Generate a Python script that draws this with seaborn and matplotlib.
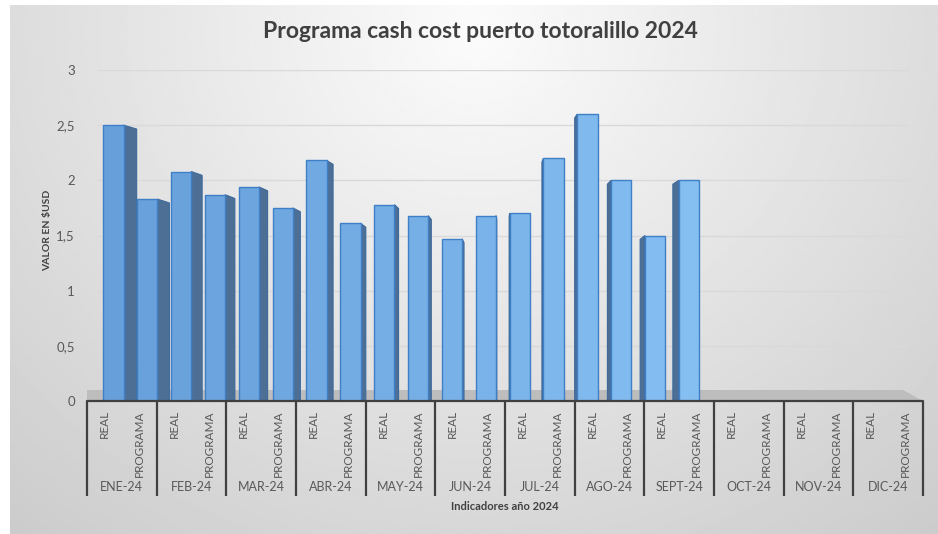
import numpy as np
import pandas as pd
import matplotlib
matplotlib.use("Agg")
import matplotlib.pyplot as plt
import seaborn as sns
from matplotlib.patches import Polygon
import matplotlib.colors as mcolors

# ---------------- data ----------------
meses = ["ENE-24", "FEB-24", "MAR-24", "ABR-24", "MAY-24", "JUN-24",
         "JUL-24", "AGO-24", "SEPT-24", "OCT-24", "NOV-24", "DIC-24"]
series = ["REAL", "PROGRAMA"]
real = [2.50, 2.08, 1.94, 2.18, 1.78, 1.47, 1.70, 2.60, 1.50, np.nan, np.nan, np.nan]
programa = [1.83, 1.87, 1.75, 1.61, 1.68, 1.68, 2.20, 2.00, 2.00, np.nan, np.nan, np.nan]
yticks = [0, 0.5, 1, 1.5, 2, 2.5, 3]
ytick_labels = ["0", "0,5", "1", "1,5", "2", "2,5", "3"]
titulo = "Programa cash cost puerto totoralillo 2024"
ylabel = "VALOR EN $USD"
xlabel = "Indicadores año 2024"

df = pd.DataFrame({
    "mes": meses * 2,
    "serie": ["REAL"] * len(meses) + ["PROGRAMA"] * len(meses),
    "valor": real + programa,
})

sns.set_theme(style="white")
plt.rcParams["font.family"] = ["Lato", "DejaVu Sans"]

W, H = 938, 534
fig = plt.figure(figsize=(W / 100, H / 100), dpi=100, facecolor="white")


def fx(px):
    return px / W


def fy(py):
    return 1 - py / H


# ---------------- background gradient ----------------
bg = fig.add_axes([fx(10), 0, 1 - fx(10), fy(5)])
bg.set_zorder(0)
gx, gy = np.meshgrid(np.linspace(0, 1, 300), np.linspace(0, 1, 200))
r = np.sqrt(((gx - 0.5) / 0.62) ** 2 + ((gy - 0.05) / 1.0) ** 2)
img = np.clip(0.985 - 0.15 * r, 0.80, 1.0)
bg.imshow(img, cmap="gray", vmin=0, vmax=1, aspect="auto", extent=[0, 1, 1, 0])
bg.set_xlim(0, 1)
bg.set_ylim(1, 0)
bg.axis("off")

# floor strip (decoration)
bg.add_patch(Polygon([(fx(87), fy(401)), (fx(87), fy(390)), (fx(903), fy(390)), (fx(923), fy(401))],
                     closed=True, transform=fig.transFigure, facecolor="#bdbdbd",
                     edgecolor="none", zorder=5))

# ---------------- bars axes ----------------
ax_left, ax_right = 96.5, 909
ax_top, ax_bot = 70, 401
ax = fig.add_axes([fx(ax_left), fy(ax_bot), fx(ax_right) - fx(ax_left), (ax_bot - ax_top) / H])
ax.set_zorder(2)
ax.set_facecolor("none")

base_col = "#6aa2dc"
sns.barplot(data=df, x="mes", y="valor", hue="serie", order=meses, hue_order=series,
            width=1.0, gap=0.4, palette=[base_col, base_col], edgecolor="#3f7fc8",
            linewidth=1.0, legend=False, ax=ax, zorder=3, errorbar=None)

c0 = np.array(mcolors.to_rgb("#659ed9"))
c1 = np.array(mcolors.to_rgb("#86bff2"))
side_col = "#4d6f96"
vp = 5.6  # vanishing x (data units)
bars = [p for p in ax.patches]
for p in bars:
    h = p.get_height()
    if not np.isfinite(h) or h <= 0:
        continue
    x0 = p.get_x()
    w = p.get_width()
    xc = x0 + w / 2
    t = np.clip((xc + 0.5) / 9.0, 0, 1)
    p.set_facecolor(tuple(c0 * (1 - t) + c1 * t))
    s = 0.033 * (vp - xc)
    d = 0.035
    if s > 0:
        pts = [(x0 + w, 0), (x0 + w, h), (x0 + w + s, h - d), (x0 + w + s, 0)]
    else:
        pts = [(x0, 0), (x0, h), (x0 + s, h - d), (x0 + s, 0)]
    ax.add_patch(Polygon(pts, closed=True, facecolor=side_col, edgecolor="#3d6a9c",
                         linewidth=0.8, zorder=2.5))

ax.set_xticks([])
ax.set_xlim(-0.5, len(meses) - 0.5)
ax.set_ylim(0, 3)
ax.set_yticks(yticks, ytick_labels)
ax.tick_params(axis="y", length=0, pad=15.5, labelsize=9.5, labelcolor="#595959")
ax.grid(axis="y", color="#d9d9d9", linewidth=1.0)
ax.set_axisbelow(True)
ax.set_xlabel("")
ax.set_ylabel("")
for sp in ax.spines.values():
    sp.set_visible(False)

# ---------------- category table ----------------
tab = fig.add_axes([fx(87), fy(496), fx(923) - fx(87), (496 - 401) / H])
tab.set_zorder(3)
tab.set_facecolor("none")
tab.set_xlim(-0.5, len(meses) - 0.5)
tab.set_ylim(1, 0)
tab.axis("off")
tab.plot([-0.5, len(meses) - 0.5], [0, 0], color="#404040", lw=1.6, clip_on=False)
tab.vlines(np.arange(len(meses) + 1) - 0.5, 0, 1, color="#404040", lw=1.6, clip_on=False)
for i, m in enumerate(meses):
    for j, s_ in enumerate(series):
        tab.text(i - 0.25 + 0.5 * j, 0.095, s_, rotation=90, ha="center", va="top",
                 fontsize=8.5, color="#595959")
    tab.text(i, 0.905, m, ha="center", va="center", fontsize=9, color="#595959")

fig.text(fx(505), fy(507), xlabel, ha="center", va="center", fontsize=8,
         fontweight="bold", color="#404040")
fig.text(fx(48), fy(230), ylabel, rotation=90, ha="center", va="center", fontsize=7.5,
         fontweight="bold", color="#404040")
fig.text(fx(480), fy(32), titulo, ha="center", va="center", fontsize=16.5,
         fontweight="bold", color="#404040")

fig.savefig("out.png", dpi=100, facecolor="white")
